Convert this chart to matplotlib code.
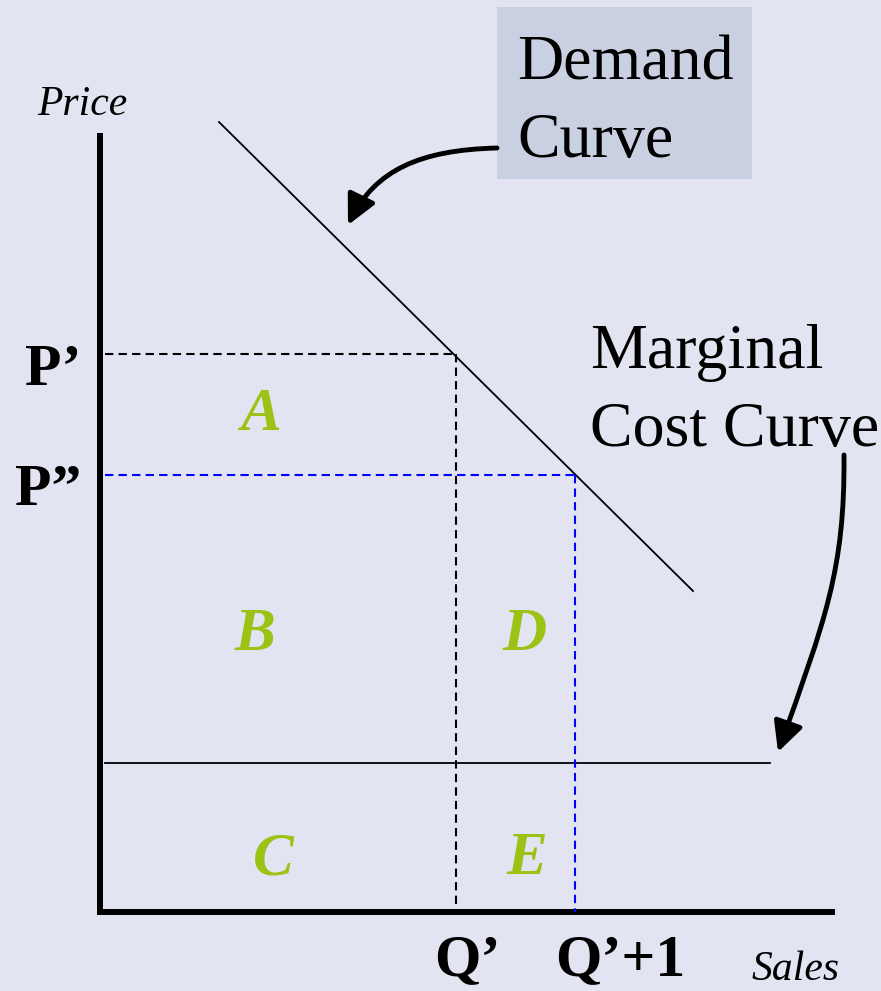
import matplotlib
matplotlib.use("Agg")
import matplotlib.pyplot as plt
from matplotlib.patches import Rectangle, FancyArrowPatch, ArrowStyle
from matplotlib.path import Path

# ---- data (chart units: sales on x, price on y) ----
price_levels = {"P’": 558, "P”": 437}
mc_level = 149
quantities = {"Q’": 356, "Q’+1": 475}
demand_x = [119, 593]
demand_y = [790, 321]
area_labels = ["A", "B", "C", "D", "E"]
area_x = [161, 155, 173, 425, 427]
area_y = [504, 284, 59, 284, 59]

BG = "#E2E5F1"
BOX = "#C9D0E2"
GREEN = "#9BC214"
BLUE = "#0000FF"
SERIF = ["Liberation Serif", "DejaVu Serif"]
DASH = (0, (4, 2.5))

fig = plt.figure(figsize=(8.81, 9.91), dpi=100, facecolor=BG)
ax = fig.add_axes([0, 0, 1, 1])
ax.set_facecolor(BG)
ax.set_xlim(-100, 781)
ax.set_ylim(-79, 912)
ax.axis("off")

# axes
ax.plot([0, 0], [-1, 779], color="black", lw=4.3, solid_capstyle="butt")
ax.plot([-3, 735], [0, 0], color="black", lw=4.3, solid_capstyle="butt")

# demand curve
ax.plot(demand_x, demand_y, color="black", lw=1.3)

# marginal cost line
ax.plot([5, 670], [mc_level, mc_level], color="black", lw=1.3)

# dashed guides
p1, p2 = list(price_levels.values())
q1, q2 = list(quantities.values())
ax.plot([5, q1], [p1, p1], color="black", lw=1.5, ls=DASH)
ax.plot([q1, q1], [p1, 0], color="black", lw=1.5, ls=DASH)
ax.plot([5, q2], [p2, p2], color=BLUE, lw=1.5, ls=DASH)
ax.plot([q2, q2], [p2, 0], color=BLUE, lw=1.5, ls=DASH)

# price labels
for (lab, yv), yb in zip(price_levels.items(), [527, 407]):
    ax.text(-19, yb, lab, ha="right", va="baseline", fontsize=43,
            fontweight="bold", family=SERIF)
for (lab, xv) in quantities.items():
    ax.text(xv + 11 if lab == "Q’" else xv + 45, -63, lab, ha="center", va="baseline",
            fontsize=43, fontweight="bold", family=SERIF)

ax.text(-63, 797, "Price", ha="left", va="baseline", fontsize=30,
        style="italic", family=SERIF)
ax.text(652, -68, "Sales", ha="left", va="baseline", fontsize=30,
        style="italic", family=SERIF)

# area letters
for lab, xv, yv in zip(area_labels, area_x, area_y):
    ax.text(xv, yv, lab, ha="center", va="center_baseline", fontsize=44,
            fontweight="bold", style="italic", color=GREEN, family=SERIF)

# demand curve label box
ax.add_patch(Rectangle((397, 733), 255, 172, facecolor=BOX, edgecolor="none"))
ax.text(417, 832, "Demand", ha="left", va="baseline", fontsize=46, family=SERIF)
ax.text(417, 755, "Curve", ha="left", va="baseline", fontsize=46, family=SERIF)

# marginal cost label
ax.text(490, 544, "Marginal", ha="left", va="baseline", fontsize=46, family=SERIF)
ax.text(490, 466, "Cost Curve", ha="left", va="baseline", fontsize=46, family=SERIF)

style = ArrowStyle("-|>", head_length=0.9, head_width=0.45)
path1 = Path([(397, 764), (320, 762), (275, 742), (248, 687)],
             [Path.MOVETO, Path.CURVE4, Path.CURVE4, Path.CURVE4])
ax.add_patch(FancyArrowPatch(path=path1, arrowstyle=style, mutation_scale=20,
                             color="black", lw=3.5))
path2 = Path([(744, 457), (745, 342), (725, 292), (678, 160)],
             [Path.MOVETO, Path.CURVE4, Path.CURVE4, Path.CURVE4])
ax.add_patch(FancyArrowPatch(path=path2, arrowstyle=style, mutation_scale=20,
                             color="black", lw=3.5))

fig.savefig("out.png", dpi=100, facecolor=BG)
